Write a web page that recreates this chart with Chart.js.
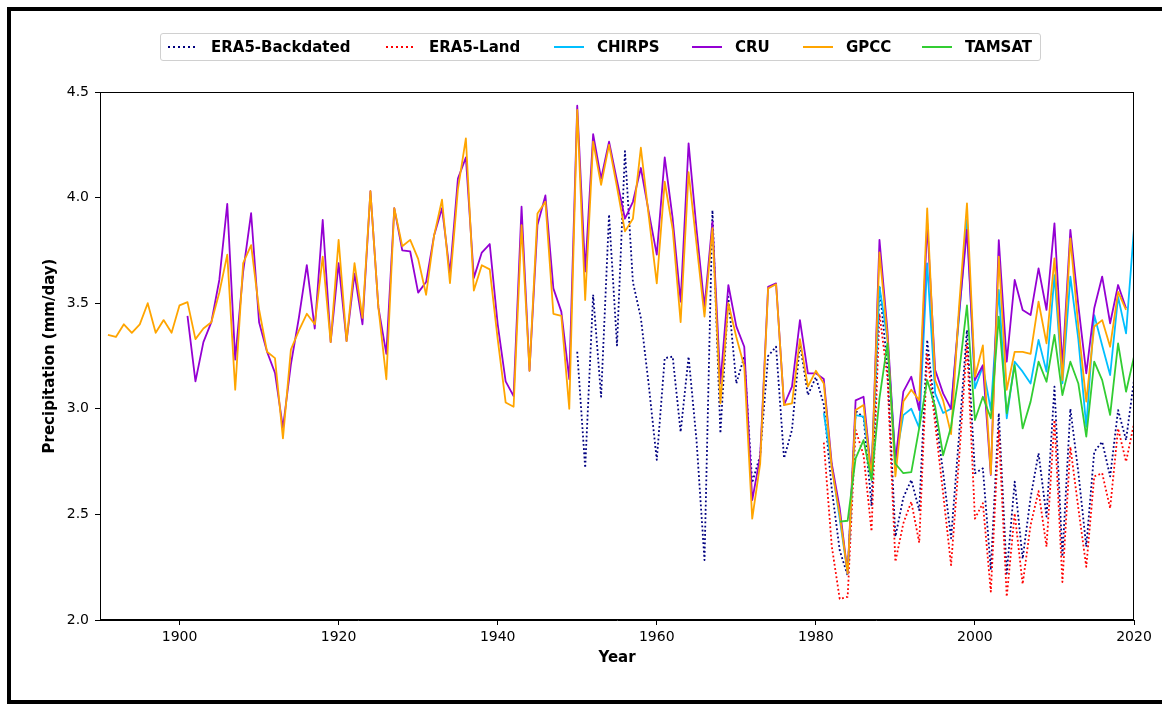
<!DOCTYPE html>
<html>
<head>
<meta charset="utf-8">
<script src="https://cdn.jsdelivr.net/npm/chart.js@4.4.1/dist/chart.umd.min.js"></script>
<style>
  html, body { margin:0; padding:0; background:#fff; }
  #wrap { position:relative; width:1162px; height:704px; overflow:hidden; background:#fff; }
  #c { position:absolute; left:0; top:0; }
  #frame { position:absolute; left:7px; top:7px; width:1175px; height:697px; border:4px solid #000; box-sizing:border-box; pointer-events:none; }
  #legend { position:absolute; left:160px; top:33px; width:881px; height:28px; border:1px solid #d0d0d0; border-radius:3px; box-sizing:border-box; background:rgba(255,255,255,0.8); font-family:"DejaVu Sans", sans-serif; font-weight:bold; font-size:15px; color:#000; }
  .sw { position:absolute; top:12px; width:30px; height:2px; }
  .lb { position:absolute; top:4px; line-height:18px; white-space:nowrap; }
</style>
</head>
<body>
<div id="wrap">
  <canvas id="c" width="1162" height="704"></canvas>
  <div id="frame"></div>
  <div id="legend"></div>
</div>
<script>
// ---- data ----
const xTicks = [1900, 1920, 1940, 1960, 1980, 2000, 2020];
const yTicks = [2.0, 2.5, 3.0, 3.5, 4.0, 4.5];

const era5BackdatedStart = 1950;
const era5Backdated = [
  3.27, 2.72, 3.54, 3.057, 3.92, 3.30, 4.22, 3.60, 3.43, 3.11,
  2.758, 3.24, 3.247, 2.89, 3.247, 2.85, 2.284, 3.94, 2.884, 3.53,
  3.12, 3.247, 2.65, 2.78, 3.25, 3.294, 2.766, 2.90, 3.31, 3.065,
  3.15, 3.02, 2.62, 2.33, 2.21, 2.99, 2.96, 2.54, 3.58, 3.20,
  2.395, 2.58, 2.663, 2.52, 3.326, 2.98, 2.70, 2.387, 2.87, 3.373,
  2.695, 2.718, 2.237, 2.979, 2.22, 2.655, 2.29, 2.58, 2.79, 2.49,
  3.105, 2.30, 3.00, 2.70, 2.347, 2.797, 2.844, 2.68, 2.994, 2.852, 3.136
];

const era5LandStart = 1981;
const era5Land = [
  2.84, 2.35, 2.10, 2.11, 2.90, 2.78, 2.42, 3.45, 3.15, 2.276,
  2.458, 2.56, 2.366, 3.263, 2.93, 2.60, 2.26, 2.76, 3.31, 2.48,
  2.553, 2.134, 2.90, 2.11, 2.505, 2.17, 2.45, 2.61, 2.347, 2.947,
  2.18, 2.82, 2.53, 2.252, 2.68, 2.695, 2.529, 2.907, 2.75, 2.93
];

const chirpsStart = 1981;
const chirps = [
  2.98, 2.73, 2.48, 2.22, 2.97, 2.963, 2.70, 3.578, 3.33, 2.75,
  2.97, 3.00, 2.91, 3.689, 3.073, 2.98, 3.00, 3.43, 3.894, 3.097,
  3.20, 2.994, 3.563, 2.955, 3.223, 3.176, 3.12, 3.326, 3.176, 3.633,
  3.12, 3.626, 3.33, 2.915, 3.444, 3.30, 3.16, 3.53, 3.357, 3.855
];

const cruStart = 1901;
const cru = [
  3.44, 3.13, 3.316, 3.41, 3.61, 3.97, 3.233, 3.65, 3.926, 3.41,
  3.27, 3.17, 2.91, 3.21, 3.43, 3.68, 3.38, 3.894, 3.316, 3.69,
  3.32, 3.64, 3.40, 4.03, 3.48, 3.26, 3.95, 3.75, 3.745, 3.55,
  3.60, 3.82, 3.95, 3.64, 4.09, 4.19, 3.62, 3.74, 3.78, 3.40,
  3.13, 3.06, 3.957, 3.18, 3.87, 4.01, 3.57, 3.46, 3.14, 4.435,
  3.65, 4.30, 4.09, 4.265, 4.08, 3.90, 3.98, 4.14, 3.93, 3.73,
  4.19, 3.90, 3.507, 4.257, 3.85, 3.483, 3.886, 3.12, 3.586, 3.39,
  3.294, 2.568, 2.773, 3.578, 3.594, 3.018, 3.105, 3.42, 3.168, 3.168,
  3.141, 2.74, 2.53, 2.22, 3.04, 3.057, 2.68, 3.80, 3.37, 2.75,
  3.081, 3.152, 2.994, 3.878, 3.184, 3.073, 3.00, 3.45, 3.847, 3.136,
  3.207, 2.687, 3.799, 3.223, 3.61, 3.468, 3.444, 3.665, 3.468, 3.878,
  3.20, 3.847, 3.49, 3.168, 3.476, 3.626, 3.405, 3.586, 3.476
];

const gpccStart = 1891;
const gpcc = [
  3.35, 3.34, 3.40, 3.36, 3.40, 3.50, 3.36, 3.42, 3.36, 3.49,
  3.505, 3.33, 3.38, 3.41, 3.55, 3.73, 3.09, 3.69, 3.775, 3.47,
  3.27, 3.24, 2.86, 3.28, 3.37, 3.45, 3.40, 3.72, 3.316, 3.80,
  3.32, 3.69, 3.43, 4.03, 3.48, 3.14, 3.95, 3.77, 3.80, 3.71,
  3.54, 3.82, 3.99, 3.595, 4.04, 4.28, 3.56, 3.68, 3.66, 3.33,
  3.03, 3.01, 3.87, 3.18, 3.925, 3.98, 3.45, 3.44, 3.00, 4.415,
  3.515, 4.265, 4.06, 4.25, 4.05, 3.84, 3.90, 4.236, 3.91, 3.594,
  4.075, 3.85, 3.41, 4.12, 3.78, 3.436, 3.855, 3.026, 3.50, 3.34,
  3.20, 2.48, 2.74, 3.57, 3.59, 3.018, 3.026, 3.33, 3.105, 3.18,
  3.12, 2.72, 2.50, 2.22, 2.994, 3.018, 2.67, 3.74, 3.34, 2.68,
  3.034, 3.09, 3.04, 3.949, 3.136, 3.04, 2.88, 3.48, 3.973, 3.152,
  3.30, 2.69, 3.72, 3.09, 3.27, 3.27, 3.26, 3.507, 3.31, 3.712,
  3.136, 3.807, 3.39, 3.034, 3.39, 3.42, 3.294, 3.554, 3.468
];

const tamsatStart = 1983;
const tamsat = [
  2.466, 2.47, 2.765, 2.852, 2.663, 3.05, 3.31, 2.74,
  2.695, 2.70, 2.91, 3.136, 3.01, 2.78, 2.915, 3.168, 3.49, 2.947,
  3.057, 2.955, 3.436, 2.979, 3.207, 2.907, 3.034, 3.223, 3.128, 3.35,
  3.065, 3.223, 3.12, 2.868, 3.223, 3.136, 2.971, 3.31, 3.081, 3.247
];

// ---- build ----
function pts(start, vals) { return vals.map((v, i) => ({ x: start + i, y: v })); }

const series = [
  { label: 'ERA5-Backdated', data: pts(era5BackdatedStart, era5Backdated), color: '#000080', dotted: true, order: 6 },
  { label: 'ERA5-Land', data: pts(era5LandStart, era5Land), color: '#ff0000', dotted: true, order: 5 },
  { label: 'CHIRPS', data: pts(chirpsStart, chirps), color: '#00bfff', dotted: false, order: 4 },
  { label: 'CRU', data: pts(cruStart, cru), color: '#9400d3', dotted: false, order: 3 },
  { label: 'GPCC', data: pts(gpccStart, gpcc), color: '#ffa500', dotted: false, order: 2 },
  { label: 'TAMSAT', data: pts(tamsatStart, tamsat), color: '#32cd32', dotted: false, order: 1 }
];

const datasets = series.map(s => ({
  label: s.label,
  data: s.data,
  borderColor: s.color,
  backgroundColor: s.color,
  borderWidth: s.dotted ? 1.8 : 1.8,
  borderDash: s.dotted ? [1.8, 2.4] : [],
  borderCapStyle: 'butt',
  borderJoinStyle: 'round',
  pointRadius: 0,
  tension: 0,
  fill: false,
  order: s.order
}));

// HTML legend (real text)
const legendPos = [
  { sw: 7, lb: 50 }, { sw: 225, lb: 268 }, { sw: 393, lb: 436 },
  { sw: 531, lb: 574 }, { sw: 642, lb: 685 }, { sw: 761, lb: 804 }
];
const legend = document.getElementById('legend');
series.forEach((s, i) => {
  const sw = document.createElement('div');
  sw.className = 'sw';
  sw.style.left = legendPos[i].sw + 'px';
  if (s.dotted) {
    sw.style.background = `repeating-linear-gradient(to right, ${s.color} 0 2px, transparent 2px 5px)`;
  } else {
    sw.style.background = s.color;
  }
  const lb = document.createElement('div');
  lb.className = 'lb';
  lb.style.left = legendPos[i].lb + 'px';
  lb.textContent = s.label;
  legend.appendChild(sw);
  legend.appendChild(lb);
});

const framePlugin = {
  id: 'frameBox',
  afterDraw(chart) {
    const { ctx, chartArea: a } = chart;
    ctx.save();
    ctx.strokeStyle = '#000';
    ctx.lineWidth = 1;
    ctx.strokeRect(Math.round(a.left) + 0.5, Math.round(a.top) + 0.5,
                   Math.round(a.right - a.left) - 1, Math.round(a.bottom - a.top) - 1);
    ctx.restore();
  }
};

const tickFont = { family: 'DejaVu Sans', size: 14 };
const titleFont = { family: 'DejaVu Sans', size: 15, weight: 'bold' };

new Chart(document.getElementById('c'), {
  type: 'line',
  data: { datasets },
  options: {
    responsive: false,
    devicePixelRatio: 1,
    animation: false,
    parsing: true,
    layout: { padding: { left: 41, right: 28, top: 92, bottom: 37 } },
    plugins: { legend: { display: false }, tooltip: { enabled: false } },
    scales: {
      x: {
        type: 'linear',
        min: 1890, max: 2020,
        afterBuildTicks: s => { s.ticks = xTicks.map(v => ({ value: v })); },
        afterFit: s => { s.height = 47; },
        grid: { display: true, drawOnChartArea: false, drawTicks: true, tickLength: 5, color: '#000', lineWidth: 1 },
        border: { display: true, color: '#000', width: 1 },
        ticks: { color: '#000', font: tickFont, padding: 4, maxRotation: 0, autoSkip: false, callback: v => String(v) },
        title: { display: true, text: 'Year', color: '#000', font: titleFont, padding: 0 }
      },
      y: {
        type: 'linear',
        min: 2.0, max: 4.5,
        afterBuildTicks: s => { s.ticks = yTicks.map(v => ({ value: v })); },
        afterFit: s => { s.width = 59; },
        grid: { display: true, drawOnChartArea: false, drawTicks: true, tickLength: 5, color: '#000', lineWidth: 1 },
        border: { display: true, color: '#000', width: 1 },
        ticks: { color: '#000', font: tickFont, padding: 6, callback: v => Number(v).toFixed(1) },
        title: { display: true, text: 'Precipitation (mm/day)', color: '#000', font: titleFont, padding: 0 }
      }
    }
  },
  plugins: [framePlugin]
});
</script>
</body>
</html>
